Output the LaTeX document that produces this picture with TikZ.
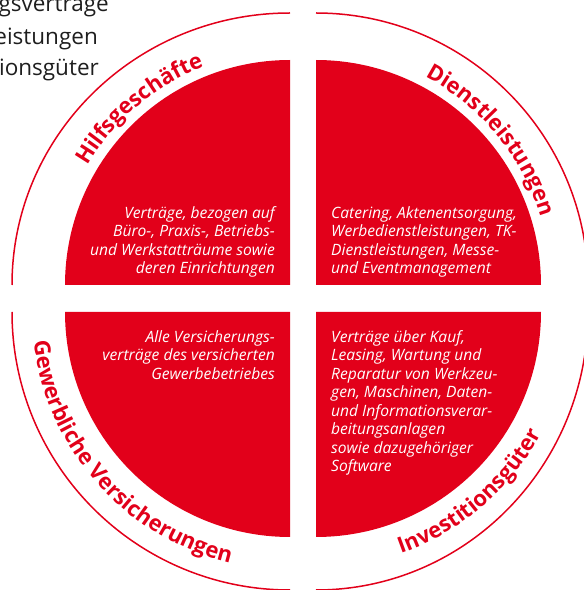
\documentclass[tikz,border=0pt]{standalone}
\usepackage{fontspec}
\setmainfont{Open Sans}
\usetikzlibrary{decorations.text}
\definecolor{svred}{RGB}{226,0,26}
\definecolor{txtdark}{RGB}{30,30,30}
\newcommand\lblfont{\bfseries\fontsize{22}{22}\selectfont}
\tikzset{
  quad/.style={fill=svred, draw=none},
  ring/.style={draw=svred, line width=1.5pt},
  body/.style={text=white, inner sep=0pt, font={\itshape\fontsize{15.6}{18.5}\selectfont}},
  blk/.style={text=txtdark, inner sep=0pt, font={\fontsize{22.5}{22.5}\selectfont}},
  curved/.style={decorate, decoration={text along path, text align=center, text color=svred, text={#1}}}
}
\begin{document}
\begin{tikzpicture}[x=1pt,y=1pt]
\useasboundingbox (0,0) rectangle (584,590);
\coordinate (TL) at (290,305);
\coordinate (TR) at (316,305);
\coordinate (BL) at (290,278);
\coordinate (BR) at (316,278);

% quadrants
\fill[quad] (TL) -- ++(-225,0) arc[start angle=180,end angle=90,radius=225pt] -- cycle;
\fill[quad] (TR) -- ++(0,225) arc[start angle=90,end angle=0,radius=225pt] -- cycle;
\fill[quad] (BL) -- ++(0,-225) arc[start angle=270,end angle=180,radius=225pt] -- cycle;
\fill[quad] (BR) -- ++(225,0) arc[start angle=0,end angle=-90,radius=225pt] -- cycle;

% outer ring
\draw[ring] ([shift={(-278,0)}]TL) arc[start angle=180,end angle=90,x radius=278pt,y radius=272pt];
\draw[ring] ([shift={(0,272)}]TR) arc[start angle=90,end angle=0,radius=272pt];
\draw[ring] ([shift={(0,-278)}]BL) arc[start angle=270,end angle=180,radius=278pt];
\draw[ring] ([shift={(272,0)}]BR) arc[start angle=0,end angle=-90,x radius=272pt,y radius=278pt];

% curved labels
\path[curved={|\lblfont|Hilfsgeschäfte}] ([shift={(170.5:235pt)}]TL) arc[start angle=170.5,end angle=90.5,radius=235pt];
\path[curved={|\lblfont|Dienstleistungen}] ([shift={(79.6:235pt)}]TR) arc[start angle=79.6,end angle=-0.4,radius=235pt];
\path[curved={|\lblfont|Gewerbliche Versicherungen}] ([shift={(166.6:258pt)}]BL) arc[start angle=166.6,end angle=276.6,radius=258pt];
\path[curved={|\lblfont|Investitionsgüter}] ([shift={(-94.5:256pt)}]BR) arc[start angle=-94.5,end angle=-4.5,radius=256pt];

% quadrant texts
\node[body, align=right, anchor=north east] (tltext) at (275,384)
  {Verträge, bezogen auf\\Büro-, Praxis-, Betriebs-\\und Werkstatträume sowie\\deren Einrichtungen};
\node[body, align=left, anchor=north west] (trtext) at (331,384)
  {Catering, Aktenentsorgung,\\Werbedienstleistungen, TK-\\Dienstleistungen, Messe-\\und Eventmanagement};
\node[body, align=right, anchor=north east] (bltext) at (275,260)
  {Alle Versicherungs-\\verträge des versicherten\\Gewerbebetriebes};
\node[body, align=left, anchor=north west] (brtext) at (331,260)
  {Verträge über Kauf,\\Leasing, Wartung und\\Reparatur von Werkzeu-\\gen, Maschinen, Daten-\\und Informationsverar-\\beitungsanlagen\\sowie dazugehöriger\\Software};

% cut-off text at top left
\node[blk, anchor=base east] (frag1) at (109,578) {gsverträge};
\node[blk, anchor=base east] (frag2) at (98,545) {eistungen};
\node[blk, anchor=base east] (frag3) at (99,514) {ionsgüter};
\end{tikzpicture}
\end{document}
